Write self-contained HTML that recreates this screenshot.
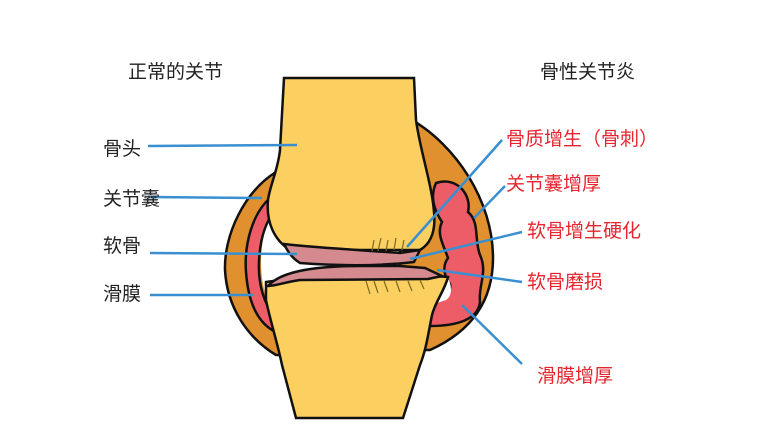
<!DOCTYPE html>
<html><head><meta charset="utf-8"><style>
html,body{margin:0;padding:0;background:#fff;}
svg{display:block}
text{font-family:"Liberation Sans","Noto Sans CJK SC",sans-serif;font-size:19px;}
</style></head><body>
<svg width="775" height="442" viewBox="0 0 775 442" xmlns="http://www.w3.org/2000/svg">
<rect width="775" height="442" fill="#fff"/>
<!-- left capsule -->
<path d="M276,172 C244,192 224,235 225,270 C227,308 248,338 276,355 L290,355 L290,172 Z" fill="#e0902e" stroke="#111" stroke-width="2.5"/>
<path d="M270,198 C252,214 244,245 246,272 C248,300 256,320 272,330 L276,318 C264,305 258,284 259,262 C260,238 266,222 274,212 Z" fill="#ec5d68" stroke="#111" stroke-width="2.5"/>
<path d="M274,214 C266,225 261,240 261,262 C261,283 266,302 276,316 L300,316 L300,214 Z" fill="#fff"/>
<!-- right capsule -->
<path d="M412,120 C455,145 493,200 493,258 C493,302 470,332 430,350 L400,350 L400,120 Z" fill="#e0902e" stroke="#111" stroke-width="2.5"/>
<path d="M436,183 C458,176 472,196 468,212 C480,222 474,240 480,255 C488,272 478,286 480,302 C478,320 456,326 430,326 L430,300 C444,296 452,292 450,284 C444,276 442,266 448,258 C444,246 436,234 442,222 C434,210 430,196 436,183 Z" fill="#ec5d68" stroke="#111" stroke-width="2.5"/>
<path d="M440,276 L449,280 C452,288 452,296 446,300 L434,304 Z" fill="#fff"/>
<!-- upper bone -->
<path d="M284,78 L414,78 L416,120 C420,150 432,185 434,212 C436,232 430,244 420,250 L290,250 C274,240 266,222 268,200 C270,185 278,170 280,150 Z" fill="#fbd061" stroke="#111" stroke-width="2.5"/>
<!-- lower bone -->
<path d="M266,282 C300,277 400,273 448,277 C444,292 436,300 432,315 C428,335 426,350 420,365 L403,418 L296,418 L282,365 C278,345 270,320 266,300 Z" fill="#fbd061" stroke="#111" stroke-width="2.5"/>
<!-- cartilage -->
<path d="M284,244 C320,248 360,250 400,253 L420,250 L414,262 C380,266 340,266 300,263 C292,258 288,252 284,244 Z" fill="#d58a8f" stroke="#111" stroke-width="2.5"/>
<path d="M268,286 C282,270 320,266 360,266 L400,266 L425,268 L442,276 L428,279 C400,279 340,280 300,280 C285,282 276,286 268,286 Z" fill="#d58a8f" stroke="#111" stroke-width="2.5"/>
<!-- spurs -->
<g stroke="#7a6a20" stroke-width="1.2">
<line x1="372" y1="251" x2="374" y2="240"/><line x1="378" y1="251" x2="381" y2="238"/><line x1="386" y1="251" x2="388" y2="240"/><line x1="394" y1="250" x2="396" y2="238"/><line x1="402" y1="250" x2="404" y2="240"/>
<line x1="366" y1="281" x2="370" y2="294"/><line x1="374" y1="281" x2="378" y2="293"/><line x1="384" y1="281" x2="388" y2="292"/><line x1="396" y1="281" x2="400" y2="292"/><line x1="408" y1="281" x2="412" y2="291"/><line x1="420" y1="280" x2="424" y2="289"/>
</g>
<!-- lines -->
<g stroke="#3a8fd0" stroke-width="2.5" fill="none">
<line x1="148" y1="146" x2="297" y2="145"/>
<line x1="148" y1="197" x2="262" y2="198"/>
<line x1="150" y1="253" x2="297" y2="254"/>
<line x1="150" y1="295" x2="253" y2="295"/>
<line x1="502" y1="140" x2="407" y2="247"/>
<line x1="505" y1="186" x2="474" y2="218"/>
<line x1="522" y1="232" x2="410" y2="259"/>
<line x1="522" y1="282" x2="437" y2="270"/>
<line x1="522" y1="364" x2="462" y2="305"/>
</g>
<!-- text -->
<text x="128" y="78" fill="#222">正常的关节</text>
<text x="540" y="78" fill="#222">骨性关节炎</text>
<text x="103" y="155" fill="#222">骨头</text>
<text x="103" y="205" fill="#222">关节囊</text>
<text x="103" y="252" fill="#222">软骨</text>
<text x="103" y="300" fill="#222">滑膜</text>
<text x="506" y="145" fill="#e6262e">骨质增生（骨刺）</text>
<text x="506" y="190" fill="#e6262e">关节囊增厚</text>
<text x="527" y="237" fill="#e6262e">软骨增生硬化</text>
<text x="527" y="288" fill="#e6262e">软骨磨损</text>
<text x="537" y="382" fill="#e6262e">滑膜增厚</text>
</svg>
</body></html>
